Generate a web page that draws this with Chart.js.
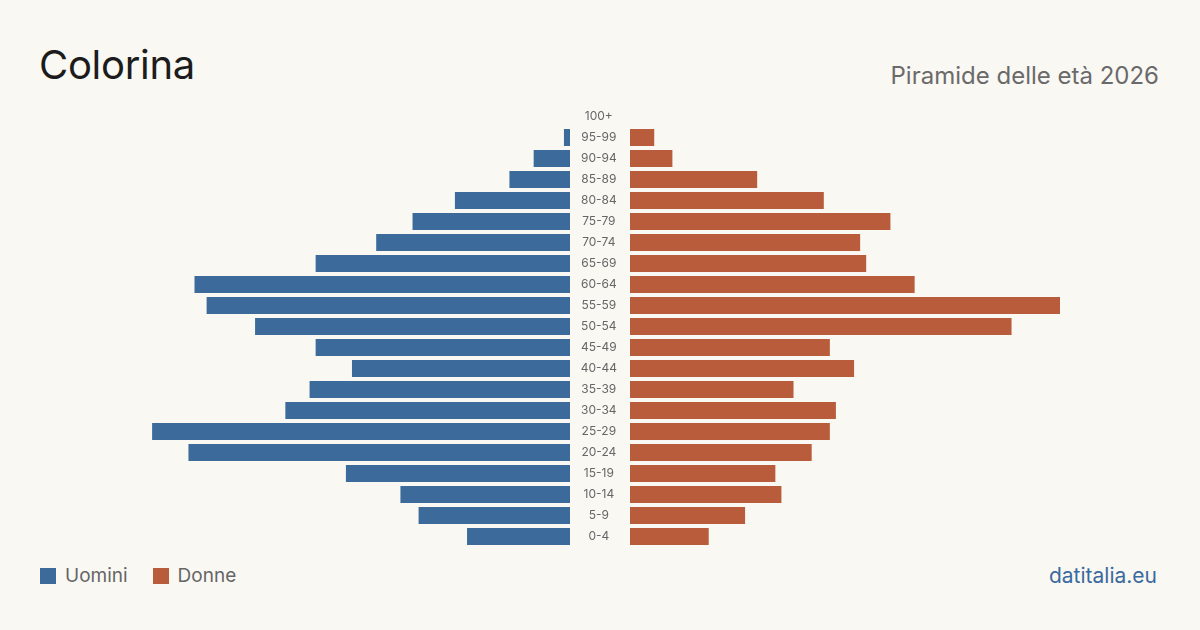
<!DOCTYPE html>
<html>
<head>
<meta charset="utf-8">
<script src="https://cdn.jsdelivr.net/npm/chart.js@4"></script>
<style>
  html, body { margin: 0; padding: 0; }
  body { width: 1200px; height: 630px; background: #faf8f3; position: relative; overflow: hidden; font-family: Inter, "Noto Sans", sans-serif; }
  #title { position: absolute; left: 39px; top: 40px; font-size: 40px; color: #1c1c1c; line-height: 50px; letter-spacing: -0.3px; }
  #subtitle { position: absolute; right: 41px; top: 61px; font-size: 24px; color: #6a6a6a; line-height: 30px; }
  #left { position: absolute; left: 140px; top: 106px; }
  #right { position: absolute; left: 570px; top: 106px; }
  .legend { position: absolute; top: 564px; left: 40px; font-size: 19px; color: #666; line-height: 24px; display: flex; align-items: center; }
  .legend .sw { width: 16px; height: 16px; display: inline-block; margin-right: 9px; }
  .legend .item { display: flex; align-items: center; margin-right: 25px; }
  #source { position: absolute; right: 43px; top: 563px; font-size: 21px; color: #3a6a9e; line-height: 26px; }
</style>
</head>
<body>
<div id="title">Colorina</div>
<div id="subtitle">Piramide delle età 2026</div>
<canvas id="left" width="430" height="441"></canvas>
<canvas id="right" width="490" height="441"></canvas>
<div class="legend">
  <span class="item"><span class="sw" style="background:#3b6a9b"></span>Uomini</span>
  <span class="item"><span class="sw" style="background:#b95c3c"></span>Donne</span>
</div>
<div id="source">datitalia.eu</div>
<script>
const ageGroups = ["0-4","5-9","10-14","15-19","20-24","25-29","30-34","35-39","40-44","45-49","50-54","55-59","60-64","65-69","70-74","75-79","80-84","85-89","90-94","95-99","100+"];
const uomini = [17, 25, 28, 37, 63, 69, 47, 43, 36, 42, 52, 60, 62, 42, 32, 26, 19, 10, 6, 1, 0];
const donne  = [13, 19, 25, 24, 30, 33, 34, 27, 37, 33, 63, 71, 47, 39, 38, 43, 32, 21, 7, 4, 0];
const axisMax = Math.max(...uomini, ...donne);

const common = {
  responsive: false,
  maintainAspectRatio: false,
  animation: false,
  indexAxis: 'y',
  layout: { padding: 0 },
  plugins: { legend: { display: false }, tooltip: { enabled: true } }
};

new Chart(document.getElementById('left'), {
  type: 'bar',
  data: { labels: ageGroups, datasets: [{ label: 'Uomini', data: uomini, backgroundColor: '#3b6a9b', categoryPercentage: 1, barPercentage: 0.81 }] },
  options: Object.assign({}, common, {
    scales: {
      x: { display: false, reverse: true, min: 0, max: axisMax },
      y: { display: false, reverse: true }
    }
  })
});

new Chart(document.getElementById('right'), {
  type: 'bar',
  data: { labels: ageGroups, datasets: [{ label: 'Donne', data: donne, backgroundColor: '#b95c3c', categoryPercentage: 1, barPercentage: 0.81 }] },
  options: Object.assign({}, common, {
    scales: {
      x: { display: false, min: 0, max: axisMax },
      y: {
        reverse: true,
        border: { display: false },
        grid: { display: false, drawTicks: false },
        ticks: { crossAlign: 'center', padding: 13, color: '#666', font: { family: 'Inter', size: 12 } },
        afterFit: (scale) => { scale.width = 60; scale.paddingTop = 0; scale.paddingBottom = 0; }
      }
    }
  })
});
</script>
</body>
</html>
